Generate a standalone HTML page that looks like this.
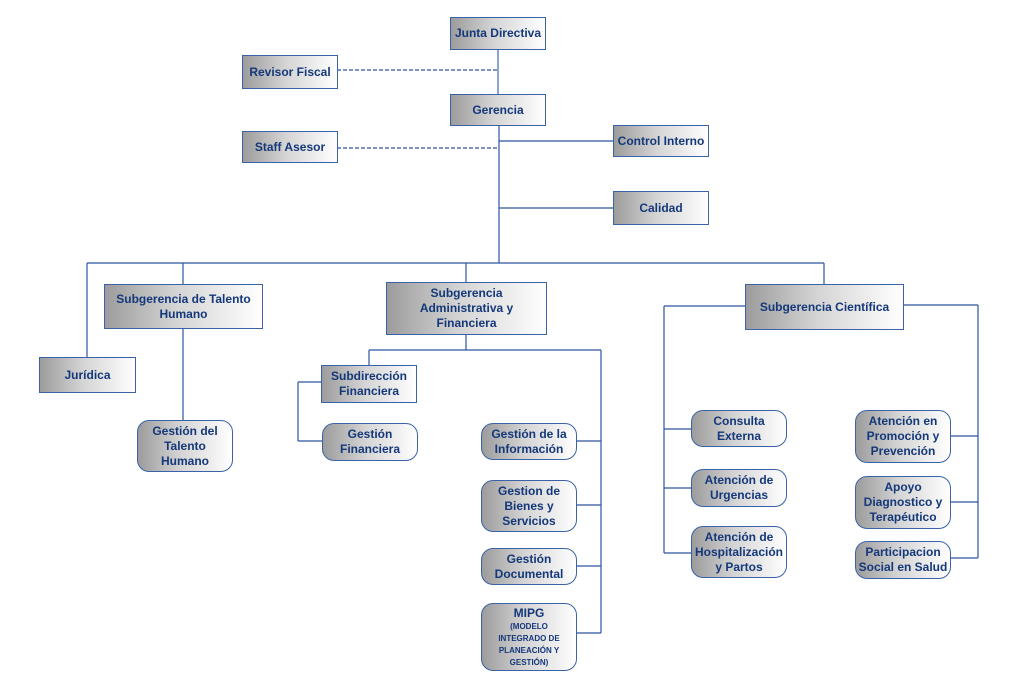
<!DOCTYPE html>
<html><head><meta charset="utf-8"><style>
html,body{margin:0;padding:0;background:#fff;}
#c{position:relative;width:1026px;height:685px;overflow:hidden;font-family:"Liberation Sans",sans-serif;}
.b{position:absolute;box-sizing:border-box;border:1.5px solid #3a62a8;background:linear-gradient(90deg,#9c9c9c 0%,#d4d4d4 45%,#ffffff 100%);color:#14387a;font-weight:bold;font-size:12px;line-height:15px;display:flex;align-items:center;justify-content:center;text-align:center;}
.r{border-radius:12px;}
svg{position:absolute;left:0;top:0;}
.s{font-size:8px;line-height:12px;}
</style></head><body><div id="c">
<svg width="1026" height="685">
<g stroke="#2d55a0" stroke-width="1.2" fill="none">
<line x1="498" y1="49" x2="498" y2="95" stroke="#8aa6d0" stroke-width="2"/>
<line x1="337" y1="70" x2="498" y2="70" stroke-dasharray="4,2"/>
<line x1="337" y1="148" x2="498" y2="148" stroke-dasharray="4,2"/>
<line x1="499" y1="126" x2="499" y2="263"/>
<line x1="499" y1="141" x2="613" y2="141"/>
<line x1="499" y1="208" x2="613" y2="208"/>
<line x1="87" y1="263" x2="824" y2="263"/>
<line x1="87" y1="263" x2="87" y2="357"/>
<line x1="183" y1="263" x2="183" y2="284"/>
<line x1="183" y1="328" x2="183" y2="420"/>
<line x1="466" y1="263" x2="466" y2="282"/>
<line x1="824" y1="263" x2="824" y2="284"/>
<line x1="466" y1="334" x2="466" y2="350"/>
<line x1="369" y1="350" x2="601" y2="350"/>
<line x1="369" y1="350" x2="369" y2="365"/>
<line x1="601" y1="350" x2="601" y2="633"/>
<line x1="576" y1="441" x2="601" y2="441"/>
<line x1="576" y1="505" x2="601" y2="505"/>
<line x1="576" y1="566" x2="601" y2="566"/>
<line x1="576" y1="633" x2="601" y2="633"/>
<line x1="298" y1="382" x2="321" y2="382"/>
<line x1="298" y1="382" x2="298" y2="441"/>
<line x1="298" y1="441" x2="322" y2="441"/>
<line x1="664" y1="306" x2="745" y2="306"/>
<line x1="664" y1="306" x2="664" y2="553"/>
<line x1="664" y1="429" x2="691" y2="429"/>
<line x1="664" y1="488" x2="691" y2="488"/>
<line x1="664" y1="553" x2="691" y2="553"/>
<line x1="903" y1="305" x2="978" y2="305"/>
<line x1="978" y1="305" x2="978" y2="558"/>
<line x1="950" y1="436" x2="978" y2="436"/>
<line x1="950" y1="502" x2="978" y2="502"/>
<line x1="950" y1="558" x2="978" y2="558"/>
</g></svg>
<div class="b" style="left:450px;top:17px;width:96px;height:33px">Junta Directiva</div>
<div class="b" style="left:242px;top:55px;width:96px;height:34px">Revisor Fiscal</div>
<div class="b" style="left:450px;top:94px;width:96px;height:32px">Gerencia</div>
<div class="b" style="left:242px;top:131px;width:96px;height:32px">Staff Asesor</div>
<div class="b" style="left:613px;top:125px;width:96px;height:32px">Control Interno</div>
<div class="b" style="left:613px;top:191px;width:96px;height:34px">Calidad</div>
<div class="b" style="left:104px;top:284px;width:159px;height:45px">Subgerencia de Talento<br>Humano</div>
<div class="b" style="left:386px;top:282px;width:161px;height:53px">Subgerencia<br>Administrativa y<br>Financiera</div>
<div class="b" style="left:745px;top:284px;width:159px;height:46px">Subgerencia Científica</div>
<div class="b" style="left:39px;top:357px;width:97px;height:36px">Jurídica</div>
<div class="b r" style="left:137px;top:420px;width:96px;height:52px">Gestión del<br>Talento<br>Humano</div>
<div class="b" style="left:321px;top:365px;width:96px;height:38px">Subdirección<br>Financiera</div>
<div class="b r" style="left:322px;top:423px;width:96px;height:38px">Gestión<br>Financiera</div>
<div class="b r" style="left:481px;top:423px;width:96px;height:37px">Gestión de la<br>Información</div>
<div class="b r" style="left:481px;top:480px;width:96px;height:52px">Gestion de<br>Bienes y<br>Servicios</div>
<div class="b r" style="left:481px;top:548px;width:96px;height:37px">Gestión<br>Documental</div>
<div class="b r" style="left:481px;top:603px;width:96px;height:68px;flex-direction:column"><div>MIPG</div><div class="s">(MODELO<br>INTEGRADO DE<br>PLANEACIÓN Y<br>GESTIÓN)</div></div>
<div class="b r" style="left:691px;top:410px;width:96px;height:37px">Consulta<br>Externa</div>
<div class="b r" style="left:691px;top:469px;width:96px;height:38px">Atención de<br>Urgencias</div>
<div class="b r" style="left:691px;top:526px;width:96px;height:52px">Atención de<br>Hospitalización<br>y Partos</div>
<div class="b r" style="left:855px;top:410px;width:96px;height:53px">Atención en<br>Promoción y<br>Prevención</div>
<div class="b r" style="left:855px;top:476px;width:96px;height:53px">Apoyo<br>Diagnostico y<br>Terapéutico</div>
<div class="b r" style="left:855px;top:541px;width:96px;height:38px">Participacion<br>Social en Salud</div>
</div></body></html>
